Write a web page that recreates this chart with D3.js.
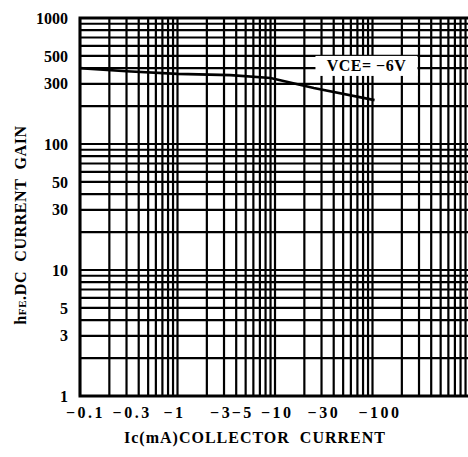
<!DOCTYPE html>
<html><head><meta charset="utf-8">
<script src="https://cdn.jsdelivr.net/npm/d3@7"></script>
<style>
body{margin:0;background:#fff}
text{font-family:"Liberation Serif","DejaVu Serif",serif;font-weight:bold;fill:#000}
.ttl{white-space:pre}
</style>
</head><body>
<svg id="c" width="468" height="457"></svg>
<script>
// ---- data ----
const xTickValues = [0.1, 0.3, 1, 3, 5, 10, 30, 100];
const xTickLabels = ["−0.1", "−0.3", "−1", "−3", "−5", "−10", "−30", "−100"];
const yTickValues = [1, 3, 5, 10, 30, 50, 100, 300, 500, 1000];
const yTickLabels = ["1", "3", "5", "10", "30", "50", "100", "300", "500", "1000"];
const currentMA = [0.1, 0.3, 1, 3.5, 9, 25, 105];
const hfe = [400, 378, 360, 352, 334, 278, 223];
const annotationText = "VCE= −6V";
const annotationAt = [26, 500];
const xTitle = "Ic(mA)COLLECTOR  CURRENT";
const yTitle = ["h", "FE", ".DC  CURRENT  GAIN"];

// ---- layout ----
const svg = d3.select("#c");
const L = 80, R = 470, T = 18, B = 396;
const x = d3.scaleLog().domain([0.1, 1000]).range([L, R]);
const y = d3.scaleLog().domain([1, 1000]).range([B, T]);

const grid = svg.append("g").attr("stroke", "#000").attr("stroke-width", 2.2);
grid.selectAll("line.v").data(x.ticks()).join("line")
  .attr("x1", d => x(d)).attr("x2", d => x(d)).attr("y1", T).attr("y2", B);
grid.selectAll("line.h").data(y.ticks()).join("line")
  .attr("y1", d => y(d)).attr("y2", d => y(d)).attr("x1", L).attr("x2", R);

// frame
svg.append("rect").attr("x", L).attr("y", T).attr("width", R - L).attr("height", B - T)
  .attr("fill", "none").attr("stroke", "#000").attr("stroke-width", 3);

// curve
const pts = currentMA.map((c, i) => [c, hfe[i]]);
svg.append("path").datum(pts)
  .attr("d", d3.line().x(d => x(d[0])).y(d => y(d[1])))
  .attr("fill", "none").attr("stroke", "#000").attr("stroke-width", 2.6);

// annotation box
const ax = x(annotationAt[0]), ay = y(annotationAt[1]);
svg.append("rect").attr("x", ax).attr("y", ay).attr("width", 102).attr("height", 20).attr("fill", "#fff");
svg.append("text").attr("x", ax + 51).attr("y", ay + 15).attr("text-anchor", "middle")
  .attr("font-size", 16).attr("letter-spacing", 0.5).text(annotationText);

// y tick labels
svg.append("g").selectAll("text").data(yTickValues).join("text")
  .attr("x", L - 12).attr("y", d => y(d)).attr("dy", "0.35em")
  .attr("text-anchor", "end").attr("font-size", 16)
  .text((d, i) => yTickLabels[i]);

// x tick labels
svg.append("g").selectAll("text").data(xTickValues).join("text")
  .attr("x", d => x(d)).attr("y", B + 22).attr("dx", -14)
  .attr("text-anchor", "start").attr("font-size", 16).attr("letter-spacing", 2.5)
  .text((d, i) => xTickLabels[i]);

// titles
svg.append("text").attr("class", "ttl").attr("x", 255).attr("y", 443).attr("text-anchor", "middle")
  .attr("font-size", 16).attr("letter-spacing", 1).text(xTitle);
const yt = svg.append("text").attr("class", "ttl").attr("transform", "translate(26,225) rotate(-90)")
  .attr("text-anchor", "middle").attr("font-size", 16).attr("letter-spacing", 0.6);
yt.append("tspan").text(yTitle[0]);
yt.append("tspan").attr("font-size", 11).text(yTitle[1]);
yt.append("tspan").text(yTitle[2]);
</script>
</body></html>
